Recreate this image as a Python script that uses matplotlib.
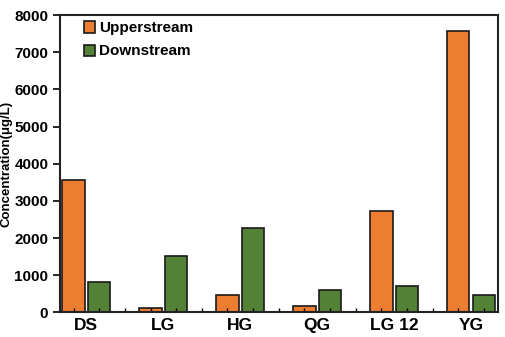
import numpy as np
import matplotlib.pyplot as plt

plt.rcParams['font.family'] = ['Liberation Sans', 'DejaVu Sans']
plt.rcParams['font.weight'] = 'bold'

sites = ['DS', 'LG', 'HG', 'QG', 'LG 12', 'YG']
upstream = [3570, 110, 470, 160, 2720, 7580]
downstream = [830, 1520, 2280, 600, 720, 460]

fig = plt.figure(figsize=(5.05, 3.37), dpi=100)
ax = fig.add_axes([0.119, 0.073, 0.867, 0.882])

x = np.arange(len(sites))
w = 0.29
off = 0.165
ax.bar(x - off, upstream, w, color='#ED7D31', edgecolor='#1a1a1a', linewidth=1.2, label='Upperstream')
ax.bar(x + off, downstream, w, color='#538135', edgecolor='#1a1a1a', linewidth=1.2, label='Downstream')

ax.set_xlim(-0.34, 5.35)
ax.set_ylim(0, 8000)
ax.set_yticks(range(0, 8001, 1000))
ax.set_xticks(x)
ax.set_xticklabels(sites, fontsize=12.5, fontweight='bold')
ax.tick_params(axis='x', direction='in', length=0, pad=4)
ax.set_xticks(np.concatenate([x - off, x + off, x[:-1] + 0.5]), minor=True)
ax.tick_params(axis='x', which='minor', direction='in', length=3, width=1)
ax.tick_params(axis='y', direction='out', length=5, width=1.2, labelsize=11)
for lab in ax.get_yticklabels():
    lab.set_fontweight('bold')
ax.set_ylabel('Concentration(μg/L)', fontsize=9.5, fontweight='bold', labelpad=1)

for s in ax.spines.values():
    s.set_linewidth(1.5)
    s.set_color('#222222')

ax.legend(loc='upper left', frameon=False, handlelength=0.75, handleheight=0.75,
          handletextpad=0.25, labelspacing=0.6, borderaxespad=0.0,
          bbox_to_anchor=(0.04, 1.0), prop={'weight': 'bold', 'size': 11})

fig.savefig('out.png', dpi=100)
